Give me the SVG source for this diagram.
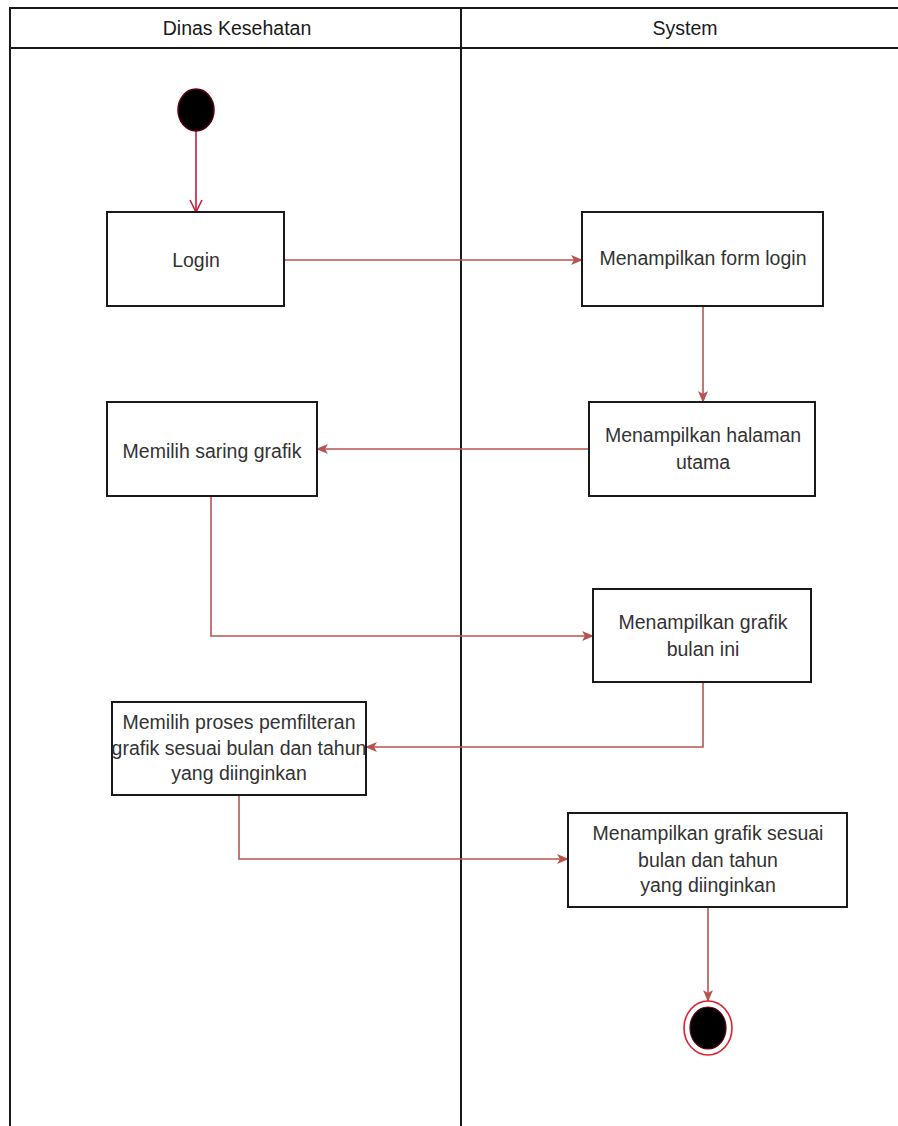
<svg xmlns="http://www.w3.org/2000/svg" width="898" height="1126" viewBox="0 0 898 1126">
  <defs>
    <style>
      .lane { fill: none; stroke: #1a1a1a; stroke-width: 2; }
      .box { fill: #ffffff; stroke: #1a1a1a; stroke-width: 2; }
      .hdr { font-family: "Liberation Sans", Arial, sans-serif; font-size: 19.5px; fill: #1a1a1a; text-anchor: middle; }
      .lbl { font-family: "Liberation Sans", Arial, sans-serif; font-size: 19.5px; fill: #333; text-anchor: middle; }
      .flow { fill: none; stroke: #b85450; stroke-width: 1.6; }
      .start-flow { fill: none; stroke: #c41e3a; stroke-width: 1.6; }
    </style>
    <marker id="arrow" viewBox="0 0 12 12" refX="11" refY="6" markerWidth="12" markerHeight="12" markerUnits="userSpaceOnUse" orient="auto">
      <path d="M0,1 L12,6 L0,11 L3,6 Z" fill="#b85450"/>
    </marker>
    <marker id="open-arrow" viewBox="0 0 14 14" refX="13" refY="7" markerWidth="14" markerHeight="14" markerUnits="userSpaceOnUse" orient="auto">
      <path d="M1,1 L13,7 L1,13" fill="none" stroke="#c41e3a" stroke-width="1.6"/>
    </marker>
  </defs>

  <rect width="898" height="1126" fill="#ffffff"/>

  <!-- swimlanes -->
  <g id="lanes">
    <path class="lane" d="M10,1126 L10,8 L898,8"/>
    <path class="lane" d="M10,48 L898,48"/>
    <path class="lane" d="M461,8 L461,1126"/>
    <text class="hdr" x="237" y="35">Dinas Kesehatan</text>
    <text class="hdr" x="685" y="35">System</text>
  </g>

  <!-- connectors -->
  <g id="connectors">
    <path class="start-flow" d="M196,131 L196,212" marker-end="url(#open-arrow)"/>
    <path class="flow" d="M284,260 L582,260" marker-end="url(#arrow)"/>
    <path class="flow" d="M703,306 L703,402" marker-end="url(#arrow)"/>
    <path class="flow" d="M589,449 L317,449" marker-end="url(#arrow)"/>
    <path class="flow" d="M211,496 L211,636 L593,636" marker-end="url(#arrow)"/>
    <path class="flow" d="M703,682 L703,747 L366,747" marker-end="url(#arrow)"/>
    <path class="flow" d="M239,795 L239,859 L568,859" marker-end="url(#arrow)"/>
    <path class="flow" d="M708,907 L708,1001" marker-end="url(#arrow)"/>
  </g>

  <!-- start -->
  <g id="start">
    <ellipse cx="196" cy="110" rx="18" ry="21" fill="#000000" stroke="#5a0010" stroke-width="1.5"/>
  </g>

  <g id="login">
    <rect class="box" x="107" y="212" width="177" height="94"/>
    <text class="lbl" x="196" y="267">Login</text>
  </g>

  <g id="form-login">
    <rect class="box" x="582" y="212" width="241" height="94"/>
    <text class="lbl" x="703" y="265">Menampilkan form login</text>
  </g>

  <g id="halaman-utama">
    <rect class="box" x="589" y="402" width="226" height="94"/>
    <text class="lbl" x="703" y="442">Menampilkan halaman</text>
    <text class="lbl" x="703" y="469">utama</text>
  </g>

  <g id="saring-grafik">
    <rect class="box" x="107" y="402" width="210" height="94"/>
    <text class="lbl" x="212" y="458">Memilih saring grafik</text>
  </g>

  <g id="grafik-bulan-ini">
    <rect class="box" x="593" y="589" width="218" height="93"/>
    <text class="lbl" x="703" y="629">Menampilkan grafik</text>
    <text class="lbl" x="703" y="656">bulan ini</text>
  </g>

  <g id="proses-filter">
    <rect class="box" x="112" y="702" width="254" height="93"/>
    <text class="lbl" x="239" y="729">Memilih proses pemfilteran</text>
    <text class="lbl" x="239" y="755">grafik sesuai bulan dan tahun</text>
    <text class="lbl" x="239" y="780">yang diinginkan</text>
  </g>

  <g id="grafik-sesuai">
    <rect class="box" x="568" y="813" width="279" height="94"/>
    <text class="lbl" x="708" y="840">Menampilkan grafik sesuai</text>
    <text class="lbl" x="708" y="867">bulan dan tahun</text>
    <text class="lbl" x="708" y="892">yang diinginkan</text>
  </g>

  <!-- end -->
  <g id="end">
    <ellipse cx="708" cy="1028" rx="24" ry="27" fill="#ffffff" stroke="#e0202a" stroke-width="1.6"/>
    <ellipse cx="708" cy="1028" rx="18" ry="21" fill="#000000" stroke="#5a0010" stroke-width="1.2"/>
  </g>
</svg>
